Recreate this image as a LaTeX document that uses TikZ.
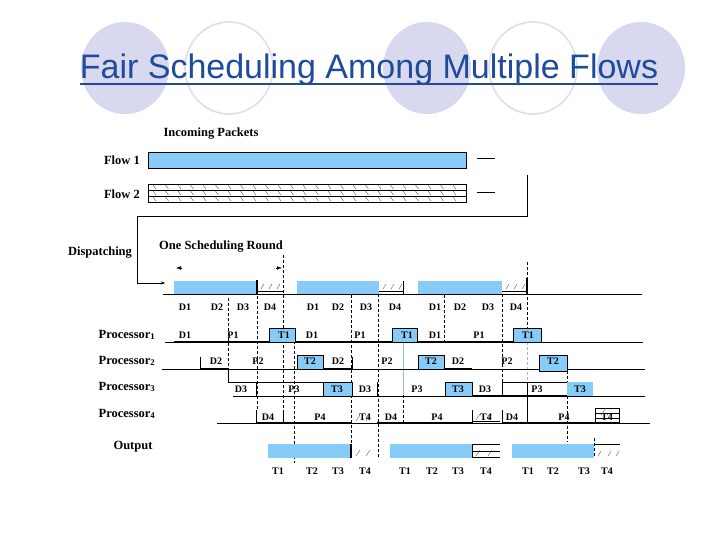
\documentclass[tikz,border=0pt]{standalone}
\usepackage{fontspec}
\setmainfont{Liberation Serif}
\newfontfamily\titlefont{Liberation Sans}
\usetikzlibrary{arrows.meta}
\definecolor{pktblue}{RGB}{135,204,248}
\definecolor{titleblue}{RGB}{30,75,155}
\definecolor{ringfill}{RGB}{216,216,238}
\definecolor{ringline}{RGB}{222,222,236}
\definecolor{faintblue}{RGB}{150,190,225}

\begin{document}
\begin{tikzpicture}[x=1pt,y=-1pt,
    lbl/.style={font=\bfseries\fontsize{12.5}{14}\selectfont, inner sep=0pt},
    tag/.style={font=\bfseries\fontsize{10}{11}\selectfont, inner sep=0pt},
    pkt/.style={fill=pktblue},
    base/.style={line width=0.9pt},
    busy/.style={line width=1.9pt},
    cut/.style={line width=0.7pt, dash pattern=on 3pt off 2pt},
    tick/.style={line width=0.35pt, black!70}]
\useasboundingbox[fill=white] (0,0) rectangle (720,540);

% title
\foreach \cx in {125,427,641}
    \fill[ringfill] (\cx,68) ellipse (44 and 46);
\foreach \cx in {229,533}
    \draw[ringline, line width=1.6pt] (\cx,68) ellipse (44 and 46);
\node[font=\titlefont\fontsize{34}{38}\selectfont, text=titleblue, inner sep=0pt, anchor=base] (title) at (369,79) {Fair Scheduling Among Multiple Flows};
\draw[titleblue, line width=1.4pt] ([yshift=-5pt]title.base west) -- ([yshift=-5pt]title.base east);

% incoming packets
\node[lbl] (inc) at (211,134) {Incoming Packets};
\node[lbl, anchor=east] (flow1) at (140,160) {Flow 1};
\node[lbl, anchor=east] (flow2) at (140,194) {Flow 2};
\draw[pkt] (148,152) rectangle (466,168);
\draw (148,184) rectangle (466,202);
\draw (148,190) -- (466,190) (148,196) -- (466,196);
\foreach \x in {153,165.5,...,460}
    \foreach \y in {184,190,196}
        \draw[tick] (\x,\y+1) -- +(3,4);
\draw (477,158) -- (495,158);
\draw (477,192) -- (495,192);
\coordinate (disp) at (165,283);
\draw[-{Stealth[length=4pt,width=3pt]}] (527,175) -- (527,216) -- (137,216) -- (137,283) -- (disp);

% dispatching
\node[lbl] (displbl) at (100,253) {Dispatching};
\node[lbl] (round) at (221,247) {One Scheduling Round};
\draw[-{Latex[length=5pt,width=3.5pt]}] (182,268) -- (176,268);
\draw[-{Latex[length=5pt,width=3.5pt]}] (276,268) -- (282,268);
\foreach \a/\b in {174/257, 297/379, 418/502}
    \fill[pktblue] (\a,281) rectangle (\b,294);
\foreach \a/\b in {257/283, 379/403, 502/527} {
    \draw[line width=0.5pt] (\a,291) -- (\b,291);
    \foreach \x in {4,12,20}
        \draw[tick] (\a+\x,289) -- +(3,-5);
}
\draw (403,281) -- (403,294);
\draw[busy] (257,280) -- (257,294);
\draw[busy] (527,278) -- (527,294);
\draw[base] (163,294) -- (642,294);
\foreach \t/\x in {D1/185, D2/217, D3/243, D4/270, D1/313, D2/338, D3/366, D4/395, D1/435, D2/460, D3/488, D4/516}
    \node[tag] (dsp-\x) at (\x,307) {\t};

% dashed time marks
\foreach \x/\a/\b in {228/298/369, 257/296/410, 283/255/410, 294/341/463, 351/295/458, 378/294/458, 444/295/341, 502/294/382, 527/262/342, 567/371/442, 594/438/458}
    \draw[cut] (\x,\a) -- (\x,\b);
\draw[faintblue, line width=0.7pt] (403,341) -- (403,395);
\draw[cut] (403,395) -- (403,423);
\draw[faintblue, cut] (527,342) -- (527,382);

% processors
\foreach \n/\y in {1/335, 2/361, 3/387, 4/414}
    \node[lbl] (proc\n) at (127,\y) {Processor\textsubscript{\n}};

% processor 1
\draw[base] (165,342) -- (643,342);
\draw[busy] (174,342) -- (513,342);
\foreach \a/\b in {269/295, 392/417, 513/541}
    \draw[pkt] (\a,328) rectangle (\b,342);
\foreach \t/\x in {D1/185, P1/233, T1/284, D1/312, P1/360, T1/407, D1/435, P1/479, T1/528}
    \node[tag] (p1-\x) at (\x,335) {\t};

% processor 2
\draw[base] (162,369) -- (645,369);
\draw (200,357) -- (200,369);
\draw (352,357) -- (352,369);
\draw[busy] (200,369) -- (228,369);
\draw[busy] (323,369) -- (352,369);
\draw[busy] (444,369) -- (472,369);
\draw[pkt] (297,355) rectangle (323,369);
\draw[pkt] (418,355) rectangle (444,369);
\draw[pkt] (539,355) rectangle (567,371);
\foreach \t/\x in {D2/216, P2/258, T2/310, D2/338, P2/387, T2/431, D2/458, P2/507, T2/553}
    \node[tag] (p2-\x) at (\x,361) {\t};

% processor 3
\draw[base] (233,396) -- (645,396);
\draw (228,369) -- (228,382) -- (323,382);
\draw (256,382) -- (256,396);
\draw (377,382) -- (377,396);
\draw[busy] (472,396) -- (567,396);
\draw[pkt] (323,382) rectangle (352,396);
\draw[pkt] (445,382) rectangle (472,396);
\draw (502,382) rectangle (567,396);
\fill[pktblue] (567,382) rectangle (593,396);
\draw (527,382) -- (527,423);
\foreach \t/\x in {D3/241, P3/294, T3/337, D3/365, P3/417, T3/458, D3/485, P3/537, T3/580}
    \node[tag] (p3-\x) at (\x,389) {\t};

% processor 4
\draw[base] (217,423) -- (650,423);
\draw (256,410) -- (256,423);
\draw (283,410) -- (283,423);
\draw (502,410) -- (502,423);
\draw[busy] (256,423) -- (352,423);
\draw[busy] (377,423) -- (472,423);
\draw[busy] (502,423) -- (595,423);
\foreach \x in {356,366}
    \draw[tick] (\x,421) -- +(4,-6);
\draw (472,410) -- (472,423);
\draw[line width=0.5pt] (472,421) -- (500,421);
\foreach \x in {476,488}
    \draw[tick] (\x,420) -- +(4,-6);
\draw (595,408) rectangle (619,422);
\draw[line width=0.4pt] (595,413) -- (619,413) (595,418) -- (619,418);
\draw[tick] (602,414) -- +(4,-6);
\foreach \t/\x in {D4/268, P4/320, T4/365, D4/391, P4/437, T4/486, D4/512, P4/564, T4/607}
    \node[tag] (p4-\x) at (\x,417) {\t};

% output
\node[lbl] (out) at (133,447) {Output};
\foreach \a/\b in {268/350, 390/472, 512/594}
    \fill[pktblue] (\a,444) rectangle (\b,458);
\draw[busy] (351,444) -- (351,458);
\foreach \x in {356,366}
    \draw[tick] (\x,456) -- +(4,-6);
\draw[line width=0.5pt] (472,444) -- (500,444) (472,451) -- (500,451) (472,457) -- (500,457);
\draw (472,444) -- (472,458);
\foreach \x in {476,488}
    \draw[tick] (\x,456) -- +(4,-6);
\draw (594,444) -- (620,444);
\foreach \x in {598,608,616}
    \draw[tick] (\x,456) -- +(3,-5);
\foreach \t/\x in {T1/278, T2/312, T3/338, T4/365, T1/405, T2/432, T3/458, T4/486, T1/528, T2/553, T3/584, T4/607}
    \node[tag] (o-\x) at (\x,471) {\t};
\end{tikzpicture}
\end{document}
